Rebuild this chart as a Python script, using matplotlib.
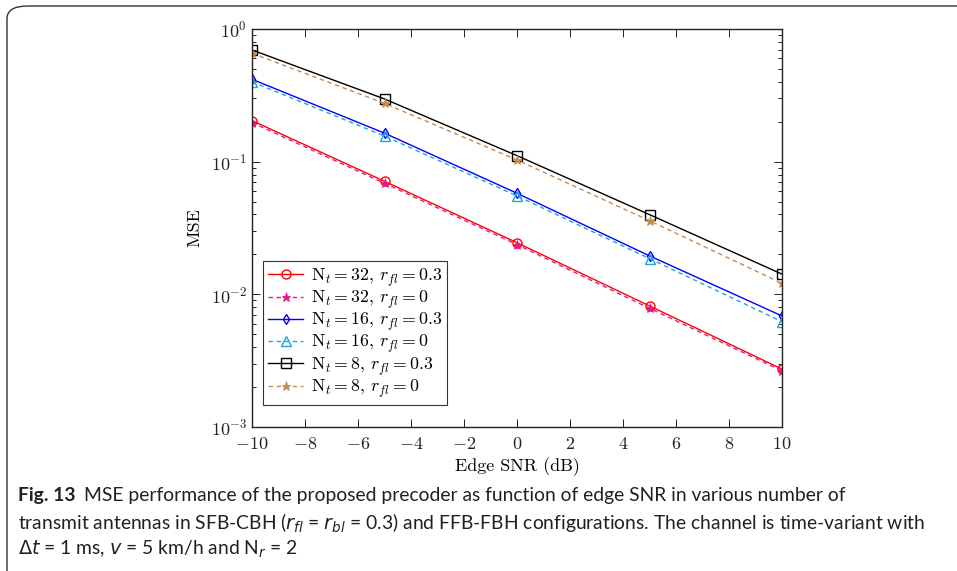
import matplotlib
matplotlib.use("Agg")
import matplotlib.pyplot as plt
from matplotlib.patches import FancyBboxPatch
from matplotlib.ticker import LogLocator, NullFormatter

plt.rcParams['mathtext.fontset'] = 'cm'
plt.rcParams['font.family'] = 'serif'
plt.rcParams['font.serif'] = ['cmr10', 'DejaVu Serif']
plt.rcParams['axes.formatter.use_mathtext'] = True

# =========================================
#   DONNEES
# =========================================
snr_db = [-10, -5, 0, 5, 10]

mse_32_03 = [0.204, 0.0711, 0.0245, 0.00818, 0.00273]
mse_32_0 = [0.197, 0.0687, 0.0237, 0.00785, 0.00265]
mse_16_03 = [0.418, 0.164, 0.0578, 0.0195, 0.00687]
mse_16_0 = [0.400, 0.156, 0.0552, 0.0186, 0.00622]
mse_8_03 = [0.695, 0.297, 0.111, 0.0399, 0.0142]
mse_8_0 = [0.656, 0.275, 0.103, 0.0359, 0.0121]

labels = [r'$\mathrm{N}_t = 32,\, r_{fl} = 0.3$',
          r'$\mathrm{N}_t = 32,\, r_{fl} = 0$',
          r'$\mathrm{N}_t = 16,\, r_{fl} = 0.3$',
          r'$\mathrm{N}_t = 16,\, r_{fl} = 0$',
          r'$\mathrm{N}_t = 8,\, r_{fl} = 0.3$',
          r'$\mathrm{N}_t = 8,\, r_{fl} = 0$']

caption_bold = "Fig. 13"
caption_l1 = "MSE performance of the proposed precoder as function of edge SNR in various number of"
caption_l2 = (r"transmit antennas in SFB-CBH ($r_{fl}$ = $r_{bl}$ = 0.3) and FFB-FBH configurations. "
              r"The channel is time-variant with")
caption_l3 = r"$\Delta t$ = 1 ms, $v$ = 5 km/h and N$_r$ = 2"

# =========================================
#   FIGURE
# =========================================
fig = plt.figure(figsize=(9.57, 5.71), dpi=100)

# cadre arrondi (coupe a droite et en bas)
frame = FancyBboxPatch((7 / 957, -0.05), 1.2, 1.05 - 6 / 571,
                       boxstyle="round,pad=0,rounding_size=0.022",
                       transform=fig.transFigure, fill=False,
                       edgecolor='#333333', linewidth=1.0, clip_on=False)
fig.patches.append(frame)

ax = fig.add_axes([252 / 957, 1 - 427 / 571, 530 / 957, 398 / 571])

dash = (3.2, 2.6)
ax.plot(snr_db, mse_32_03, color='#ff0000', lw=1.0, marker='o', ms=6.5,
        mfc='none', mew=1.0, label=labels[0])
ax.plot(snr_db, mse_32_0, color='#e6198a', lw=1.0, ls='--', dashes=dash,
        marker='*', ms=6.5, mew=0.6, label=labels[1])
ax.plot(snr_db, mse_16_03, color='#0000ff', lw=1.0, marker='d', ms=5.5,
        mfc='none', mew=1.0, label=labels[2])
ax.plot(snr_db, mse_16_0, color='#1ea6dc', lw=1.0, ls='--', dashes=dash,
        marker='^', ms=6.5, mfc='none', mew=1.0, label=labels[3])
ax.plot(snr_db, mse_8_03, color='#000000', lw=1.0, marker='s', ms=6.5,
        mfc='none', mew=1.0, label=labels[4])
ax.plot(snr_db, mse_8_0, color='#c98a4e', lw=1.0, ls='--', dashes=dash,
        marker='*', ms=6.5, mew=0.6, label=labels[5])

ax.set_yscale('log')
ax.set_xlim(-10, 10)
ax.set_ylim(1e-3, 1e0)
ax.set_xticks(range(-10, 11, 2))
ax.yaxis.set_major_locator(LogLocator(base=10, numticks=10))
ax.yaxis.set_minor_locator(LogLocator(base=10, subs=range(2, 10), numticks=20))
ax.yaxis.set_minor_formatter(NullFormatter())
ax.tick_params(which='both', direction='in', top=True, right=True,
               labelsize=13, width=0.7, colors='#222222')
ax.tick_params(which='major', length=6)
ax.tick_params(which='minor', length=3)
ax.tick_params(axis='x', pad=6.5)
for s in ax.spines.values():
    s.set_linewidth(1.0)
    s.set_color('#222222')

ax.set_xlabel('Edge SNR (dB)', fontsize=13, labelpad=4)
ax.set_ylabel('MSE', fontsize=13, labelpad=6)

leg = ax.legend(loc='lower left', bbox_to_anchor=(0.02, 0.055), fontsize=12.8,
                fancybox=False, edgecolor='#333333', framealpha=1,
                handlelength=2.0, handletextpad=0.4, labelspacing=0.0,
                borderpad=0.3, borderaxespad=0)
leg.get_frame().set_linewidth(0.8)

# =========================================
#   LEGENDE DE LA FIGURE
# =========================================
cap_font = ['Lato', 'DejaVu Sans']
cap_size = 13.9
x0 = 18 / 957
t = fig.text(x0, 1 - 496 / 571, caption_bold, fontsize=cap_size, fontweight='bold',
             family=cap_font, va='center', color='#231f20')
fig.canvas.draw()
bb = t.get_window_extent(renderer=fig.canvas.get_renderer())
x1 = (bb.x1 + 8) / fig.bbox.width
fig.text(x1, 1 - 496 / 571, caption_l1, fontsize=cap_size, family=cap_font,
         va='center', color='#231f20')
fig.text(x0, 1 - 523 / 571, caption_l2, fontsize=cap_size, family=cap_font,
         va='center', color='#231f20', math_fontfamily='dejavusans')
fig.text(x0, 1 - 549 / 571, caption_l3, fontsize=cap_size, family=cap_font,
         va='center', color='#231f20', math_fontfamily='dejavusans')

plt.savefig('out.png', dpi=100)
plt.close()
